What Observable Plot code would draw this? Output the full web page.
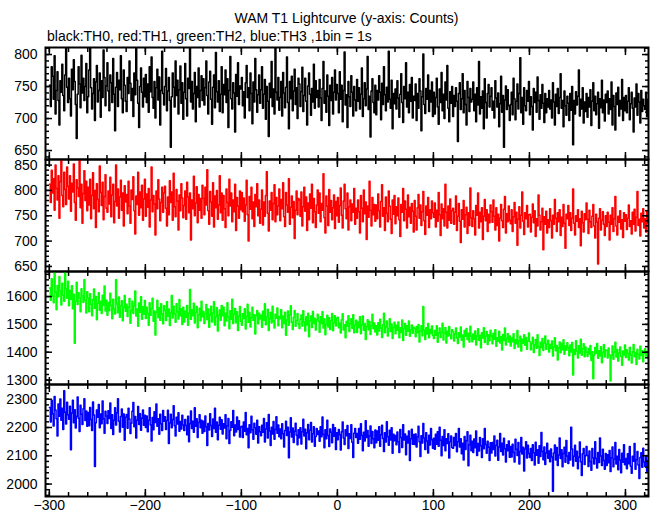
<!DOCTYPE html>
<html><head><meta charset="utf-8">
<script src="https://cdn.jsdelivr.net/npm/d3@7"></script>
<script src="https://cdn.jsdelivr.net/npm/@observablehq/plot@0.6"></script>
<style>
body{margin:0;background:#fff;}
#chart{position:relative;width:652px;height:515px;font-family:"Liberation Sans",Arial,Helvetica,sans-serif;background:#fff;overflow:hidden;color:#000;}
#title{position:absolute;left:45px;width:603px;top:10px;text-align:center;font-size:14px;line-height:16px;}
#subtitle{position:absolute;left:47px;top:28px;font-size:14px;line-height:16px;}
</style></head>
<body>
<div id="chart">
<div id="title">WAM T1 Lightcurve (y-axis: Counts)</div>
<div id="subtitle">black:TH0, red:TH1, green:TH2, blue:TH3 ,1bin = 1s</div>
</div>
<script>
// time bins: 1 bin = 1 s, first bin at -300 s
const binStart = -300;
const binSize = 1;

const xTicks = [-300, -200, -100, 0, 100, 200, 300];

// TH0 (black) counts per 1 s bin
const th0 = [
752,719,781,766,730,798,707,744,773,728,690,759,741,785,736,712,768,811,749,725,
763,731,704,777,745,792,758,722,669,738,781,754,717,799,740,763,728,750,786,709,
734,776,811,748,715,739,762,697,757,783,726,744,771,702,759,733,807,764,720,751,
787,743,712,768,756,725,794,738,681,749,772,719,760,745,798,731,709,776,752,727,
711,764,739,790,755,728,747,703,771,737,811,760,724,686,750,779,741,718,763,734,
769,725,754,710,781,742,796,733,716,758,701,748,777,729,765,690,744,805,739,721,
750,778,712,743,764,728,655,734,771,749,718,790,736,760,707,745,782,724,756,699,
741,786,731,704,763,747,811,726,758,715,739,772,695,750,733,779,718,744,767,728,
762,721,748,790,736,707,757,774,730,691,749,768,717,803,742,726,759,711,738,781,
709,753,737,776,725,762,686,744,797,731,715,756,740,679,769,735,787,722,751,746,
764,720,742,701,756,783,733,748,712,771,739,692,757,726,794,745,710,737,768,724,
745,781,716,738,761,699,750,727,672,755,733,789,719,746,707,811,741,729,764,713,
733,758,704,772,740,717,749,796,725,684,758,731,766,712,743,777,722,748,700,763,
754,719,742,780,711,736,763,727,690,751,771,738,705,747,726,785,716,759,733,744,
718,761,732,697,747,789,724,743,710,768,735,689,752,728,764,707,741,776,729,753,
739,709,773,730,752,695,744,804,721,737,686,758,734,719,767,741,704,750,729,712,
761,727,748,715,738,779,703,731,756,720,746,797,714,735,671,743,762,725,709,752,
706,744,729,767,741,698,755,722,781,737,712,749,726,805,730,716,760,684,739,723,
746,715,759,732,702,738,770,725,694,750,731,787,718,741,709,753,727,764,701,735,
728,754,697,739,716,762,743,681,734,801,722,708,747,730,768,711,744,726,757,703,
741,707,733,763,718,691,746,725,772,712,738,700,757,729,783,716,695,742,724,750,
703,736,719,748,727,664,739,756,714,731,770,709,744,722,690,758,733,711,747,726,
730,757,712,738,695,748,721,789,707,734,716,743,684,762,725,701,739,753,718,735,
748,713,727,701,759,732,718,740,687,723,766,710,736,655,729,751,714,745,720,697,
722,741,706,763,731,698,727,754,715,739,795,709,733,691,748,720,712,744,727,758,
706,734,719,682,747,725,741,710,765,728,699,737,716,753,724,694,739,709,731,718,
744,715,729,701,756,726,690,738,719,747,708,733,770,716,728,687,743,720,705,735,
724,697,739,713,750,659,728,707,742,721,735,776,704,730,715,748,693,726,711,739,
702,733,718,745,689,727,756,712,735,706,723,741,685,731,717,760,709,729,696,738,
725,743,707,731,714,757,690,736,719,682,740,722,749,704,728,715,761,697,733,712,
736,709,727,748,698,723,741,716,679,732,718,754,705,739,726,693,744,711,730,720,
714,741,703,728
];

// TH1 (red)
const th1 = [
812,776,840,795,823,761,850,804,781,829,745,817,861,790,768,836,802,772,846,808,
783,829,759,814,797,852,776,741,821,805,788,861,766,812,735,794,839,780,818,760,
806,771,822,744,790,835,764,800,727,813,782,758,848,796,770,816,742,788,831,765,
757,799,773,826,748,791,812,736,778,850,769,803,745,787,820,761,795,730,809,777,
792,754,818,769,735,801,782,827,760,714,789,772,836,751,797,766,810,741,783,822,
749,793,767,804,728,781,846,758,790,773,712,799,764,821,783,740,776,806,757,795,
808,765,730,787,752,819,776,797,741,834,768,748,802,779,722,791,760,813,785,746,
770,799,743,816,787,756,795,702,781,764,828,750,775,807,736,792,761,784,745,810,
784,752,806,771,841,760,733,798,777,749,815,728,789,766,800,743,771,829,756,795,
741,790,764,727,803,776,750,822,769,795,738,781,758,812,721,786,769,745,799,762,
796,758,785,739,771,820,752,700,788,763,806,744,777,729,792,768,813,750,781,735,
763,801,732,777,749,790,837,755,720,779,761,796,742,774,811,738,786,752,769,803,
740,782,764,815,748,729,796,771,757,823,733,767,789,746,778,705,761,799,752,784,
781,749,797,730,768,806,759,787,721,775,742,793,765,812,736,784,758,727,771,801,
755,795,738,774,761,833,746,716,789,769,731,802,757,780,742,766,791,725,778,750,
786,737,770,805,751,726,779,812,764,744,795,722,768,781,740,773,757,804,733,765,
745,781,758,716,790,765,738,801,754,777,703,769,747,818,761,730,786,752,772,739,
771,744,793,760,728,778,811,749,766,721,787,755,738,799,769,743,715,781,753,790,
734,768,750,785,742,709,772,757,804,740,779,763,726,791,748,767,735,774,759,718,
780,749,722,766,792,745,771,731,758,798,740,713,769,751,786,727,762,744,779,756,
747,775,728,761,739,796,752,711,773,744,764,730,812,757,726,769,741,783,735,760,
765,733,757,789,721,749,774,739,697,762,743,780,728,752,767,715,756,731,805,746,
729,760,744,712,770,751,795,726,757,738,766,703,749,782,740,762,719,753,736,771,
758,737,781,749,722,766,731,753,700,745,772,740,727,763,788,716,754,738,769,741,
734,762,719,748,776,735,757,692,743,768,726,751,797,739,713,756,744,770,728,752,
753,718,747,773,736,760,709,744,730,791,751,722,738,765,683,748,733,759,716,742,
727,764,740,706,751,733,782,745,719,756,738,762,711,747,729,772,735,686,753,744,
770,731,756,721,745,803,735,712,750,739,762,727,744,691,759,736,718,754,742,775,
743,715,761,738,727,749,772,730,706,753,737,655,745,764,722,741,758,733,711,750,
729,757,737,702,751,733,766,719,744,788,730,712,749,737,760,724,742,707,756,739,
752,723,745,771,729,740,714,757,733,763,720,747,798,731,743,710,755,738,764,726,
744,718,759,736
];

// TH2 (green)
const th2 = [
1631,1587,1664,1602,1578,1690,1615,1553,1640,1599,1672,1621,1570,1648,1606,1583,1690,1629,1594,1655,
1567,1622,1590,1639,1556,1608,1432,1583,1651,1571,1614,1597,1545,1628,1602,1579,1660,1588,1541,1617,
1594,1545,1610,1572,1531,1589,1627,1558,1600,1517,1576,1614,1551,1583,1539,1605,1570,1638,1548,1587,
1533,1579,1549,1612,1568,1520,1590,1555,1537,1660,1573,1542,1598,1526,1566,1585,1513,1561,1604,1547,
1572,1528,1561,1593,1504,1550,1583,1539,1566,1620,1530,1555,1493,1577,1544,1599,1518,1563,1536,1586,
1521,1562,1540,1497,1578,1533,1556,1594,1511,1548,1462,1543,1587,1525,1560,1515,1574,1538,1502,1567,
1550,1514,1581,1529,1555,1496,1541,1604,1523,1565,1537,1508,1574,1545,1519,1589,1531,1556,1500,1562,
1509,1547,1526,1568,1497,1540,1625,1518,1553,1531,1576,1505,1543,1564,1488,1535,1558,1513,1583,1527,
1546,1503,1539,1571,1517,1555,1490,1534,1565,1509,1541,1581,1498,1527,1560,1476,1533,1552,1515,1568,
1531,1562,1495,1540,1512,1578,1527,1484,1549,1518,1590,1503,1536,1557,1506,1545,1478,1529,1564,1511,
1497,1538,1521,1556,1483,1529,1572,1508,1544,1491,1525,1562,1514,1535,1465,1531,1550,1502,1540,1519,
1533,1490,1547,1515,1574,1499,1527,1554,1478,1520,1543,1505,1565,1512,1487,1536,1522,1559,1495,1528,
1520,1553,1488,1529,1503,1544,1461,1516,1548,1497,1535,1567,1508,1482,1525,1550,1493,1514,1539,1501,
1485,1518,1534,1494,1549,1509,1476,1527,1498,1540,1456,1512,1530,1489,1546,1503,1522,1480,1517,1536,
1510,1472,1527,1503,1545,1487,1519,1463,1500,1533,1491,1524,1482,1513,1539,1477,1506,1531,1494,1521,
1526,1488,1505,1469,1517,1538,1480,1499,1452,1511,1493,1531,1474,1502,1520,1486,1535,1470,1497,1515,
1471,1509,1489,1527,1466,1498,1530,1479,1503,1446,1492,1517,1481,1510,1464,1496,1536,1484,1505,1473,
1495,1462,1506,1476,1518,1487,1453,1499,1540,1470,1491,1512,1458,1485,1520,1474,1501,1449,1489,1508,
1466,1497,1479,1509,1452,1488,1471,1516,1442,1484,1503,1461,1495,1475,1512,1457,1481,1498,1468,1490,
1485,1456,1492,1470,1500,1437,1476,1495,1459,1564,1479,1446,1488,1465,1503,1452,1482,1467,1494,1460,
1449,1478,1461,1495,1436,1470,1487,1453,1472,1504,1444,1467,1489,1433,1475,1458,1492,1462,1448,1481,
1474,1440,1466,1487,1451,1431,1470,1455,1491,1443,1462,1419,1478,1457,1485,1446,1468,1437,1493,1458,
1438,1465,1447,1476,1426,1459,1484,1443,1461,1416,1470,1451,1488,1435,1457,1474,1428,1463,1441,1479,
1459,1430,1468,1447,1481,1421,1452,1439,1475,1433,1456,1408,1464,1442,1487,1426,1450,1466,1437,1458,
1422,1451,1438,1466,1413,1445,1430,1478,1419,1441,1457,1404,1447,1432,1463,1425,1453,1411,1440,1469,
1438,1409,1431,1454,1399,1427,1446,1414,1463,1420,1388,1436,1417,1449,1406,1433,1458,1411,1429,1443,
1401,1428,1413,1440,1386,1419,1452,1405,1424,1372,1416,1437,1398,1431,1409,1445,1393,1422,1407,1434,
1418,1387,1426,1401,1435,1318,1410,1392,1441,1404,1379,1423,1397,1447,1389,1412,1430,1384,1419,1400,
1385,1413,1394,1424,1370,1402,1305,1389,1417,1396,1431,1378,1405,1387,1420,1362,1399,1427,1383,1408,
1406,1379,1415,1391,1297,1388,1422,1375,1401,1436,1383,1410,1368,1397,1419,1385,1353,1404,1390,1426,
1381,1409,1395,1372,1418,1390,1361,1402,1428,1384,1399,1356,1411,1393,1376,1421,1388,1405,1366,1397,
1412,1386,1403,1379
];

// TH3 (blue)
const th3 = [
2271,2219,2296,2248,2205,2310,2262,2231,2170,2283,2240,2301,2226,2268,2193,2330,2254,2212,2289,2245,
2229,2275,2121,2251,2296,2217,2263,2198,2240,2308,2233,2186,2279,2247,2211,2266,2302,2225,2258,2204,
2253,2206,2271,2228,2189,2290,2244,2062,2217,2262,2236,2281,2199,2248,2213,2294,2230,2180,2257,2241,
2214,2259,2232,2287,2196,2245,2175,2226,2270,2209,2251,2302,2222,2184,2239,2265,2201,2248,2155,2236,
2246,2197,2268,2230,2179,2215,2257,2288,2203,2239,2163,2226,2274,2211,2249,2190,2233,2262,2208,2243,
2200,2241,2185,2226,2270,2209,2152,2235,2192,2256,2218,2283,2204,2231,2176,2247,2213,2189,2260,2222,
2238,2193,2225,2261,2143,2216,2247,2199,2228,2277,2206,2170,2236,2212,2252,2187,2221,2195,2243,2209,
2189,2228,2207,2174,2240,2150,2213,2258,2196,2222,2183,2270,2204,2231,2165,2218,2245,2199,2226,2180,
2222,2186,2241,2203,2136,2214,2191,2249,2207,2168,2230,2196,2268,2183,2219,2157,2208,2236,2194,2227,
2177,2213,2198,2245,2160,2206,2232,2143,2189,2220,2201,2260,2171,2209,2184,2237,2193,2224,2166,2202,
2204,2165,2219,2187,2253,2174,2196,2128,2210,2181,2240,2192,2158,2215,2199,2176,2226,2145,2203,2185,
2171,2208,2183,2232,2149,2195,2217,2163,2246,2188,2136,2201,2177,2221,2158,2193,2238,2180,2209,2167,
2195,2160,2213,2178,2131,2189,2222,2172,2201,2093,2184,2234,2166,2198,2147,2187,2215,2173,2139,2192,
2164,2199,2142,2185,2229,2170,2194,2125,2181,2211,2157,2190,2218,2149,2178,2203,2134,2168,2196,2175,
2188,2151,2203,2167,2237,2176,2128,2192,2160,2226,2172,2133,2195,2183,2146,2211,2169,2199,2122,2181,
2157,2193,2174,2120,2185,2219,2163,2140,2192,2171,2207,2126,2178,2161,2210,2148,2094,2180,2196,2165,
2179,2144,2196,2158,2213,2172,2118,2183,2152,2224,2165,2189,2134,2170,2205,2143,2186,2160,2128,2191,
2146,2188,2155,2203,2134,2174,2208,2161,2115,2181,2149,2220,2167,2137,2190,2156,2199,2109,2176,2153,
2172,2139,2184,2150,2112,2193,2165,2129,2210,2156,2177,2104,2169,2145,2188,2083,2160,2194,2141,2175,
2140,2177,2131,2166,2204,2150,2097,2171,2145,2214,2163,2122,2181,2152,2110,2173,2138,2196,2157,2127,
2162,2123,2176,2141,2185,2134,2201,2155,2100,2168,2136,2192,2118,2160,2143,2178,2092,2150,2170,2129,
2127,2165,2136,2179,2114,2150,2196,2131,2160,2107,2144,2085,2168,2122,2153,2185,2065,2139,2173,2118,
2151,2112,2159,2128,2188,2101,2143,2117,2165,2135,2094,2160,2125,2196,2140,2109,2151,2130,2083,2146,
2110,2147,2122,2170,2099,2136,2155,2084,2131,2179,2115,2144,2103,2162,2125,2078,2139,2118,2152,2095,
2133,2096,2141,2112,2078,2158,2123,2101,2147,2071,2115,2165,2106,2130,2046,2124,2150,2092,2137,2108,
2094,2126,2083,2139,2111,2067,2148,2102,2121,2074,2135,2097,2182,2115,2086,2131,2069,2110,2144,2091,
2117,2079,2124,2096,1975,2110,2138,2085,2129,2066,2103,2163,2090,2121,2061,2108,2130,2077,2154,2099,
2073,2112,2085,2201,2124,2064,2098,2137,2081,2116,2054,2095,2149,2079,2030,2107,2126,2069,2100,2133,
2101,2062,2117,2080,2049,2126,2093,2071,2150,2090,2057,2112,2076,2163,2099,2066,2123,2083,2052,2108,
2066,2104,2075,2119,2044,2093,2131,2061,2089,2147,2071,2098,2051,2122,2085,2040,2109,2077,2139,2068,
2090,2054,2107,2072,2133,2063,2038,2098,2081,2143,2052,2086,2115,2067,2020,2094,2111,2059,2127,2078,
2062,2101,2045,2083
];

const th0Ticks = [650, 700, 750, 800];
const th1Ticks = [650, 700, 750, 800, 850];
const th2Ticks = [1300, 1400, 1500, 1600];
const th3Ticks = [2000, 2100, 2200, 2300];

const panels = [
  {values: th0, color: "#000000", domain: [636, 811], ticks: th0Ticks, minor: 10, top: 47, bottom: 159},
  {values: th1, color: "#ff0000", domain: [640, 861], ticks: th1Ticks, minor: 10, top: 159, bottom: 271},
  {values: th2, color: "#00ff00", domain: [1284, 1690], ticks: th2Ticks, minor: 20, top: 271, bottom: 384},
  {values: th3, color: "#0000ff", domain: [1956, 2352], ticks: th3Ticks, minor: 20, top: 384, bottom: 496}
];

const xDomain = [-304, 324];
const xMinor = d3.range(-300, 321, 20);
const blank = () => "";
const fmt = d3.format("d");
const chart = document.getElementById("chart");

panels.forEach((p, k) => {
  const last = k === panels.length - 1;
  const mt = 1, mb = last ? 22 : 1;
  const yMinor = d3.range(Math.ceil(p.domain[0] / p.minor) * p.minor, p.domain[1], p.minor);
  const tickStyle = {stroke: "black", strokeWidth: 1.5};
  const marks = [
    Plot.line(p.values, {x: (d, i) => binStart + i * binSize, y: d => d, stroke: p.color, strokeWidth: 1.5, curve: "step-after", clip: true}),
    Plot.axisY(p.ticks, {anchor: "left", tickSize: 0, tickPadding: 8, fontSize: 14, tickFormat: fmt, label: null}),
    Plot.axisY(p.ticks, {anchor: "left", tickSize: -7, tickFormat: blank, label: null, ...tickStyle}),
    Plot.axisY(yMinor, {anchor: "left", tickSize: -4, tickFormat: blank, label: null, ...tickStyle}),
    Plot.axisY(p.ticks, {anchor: "right", tickSize: -7, tickFormat: blank, label: null, ...tickStyle}),
    Plot.axisY(yMinor, {anchor: "right", tickSize: -4, tickFormat: blank, label: null, ...tickStyle}),
    Plot.axisX(xTicks, {anchor: "bottom", tickSize: -7, tickFormat: blank, label: null, ...tickStyle}),
    Plot.axisX(xMinor, {anchor: "bottom", tickSize: -4, tickFormat: blank, label: null, ...tickStyle}),
    Plot.axisX(xTicks, {anchor: "top", tickSize: -7, tickFormat: blank, label: null, ...tickStyle}),
    Plot.axisX(xMinor, {anchor: "top", tickSize: -4, tickFormat: blank, label: null, ...tickStyle}),
    Plot.frame({stroke: "black", strokeWidth: 2})
  ];
  if (last) marks.push(Plot.axisX(xTicks, {anchor: "bottom", tickSize: 0, tickPadding: 4, fontSize: 14, tickFormat: fmt, label: null}));
  const svg = Plot.plot({
    width: 652,
    height: (p.bottom - p.top) + mt + mb,
    marginLeft: 45, marginRight: 4, marginTop: mt, marginBottom: mb,
    x: {domain: xDomain},
    y: {domain: p.domain},
    style: {background: "transparent", fontFamily: "'Liberation Sans', Arial, Helvetica, sans-serif", fontSize: "14px", color: "black", overflow: "visible"},
    marks
  });
  svg.style.position = "absolute";
  svg.style.left = "0px";
  svg.style.top = (p.top - mt) + "px";
  chart.appendChild(svg);
});
</script>
</body></html>
